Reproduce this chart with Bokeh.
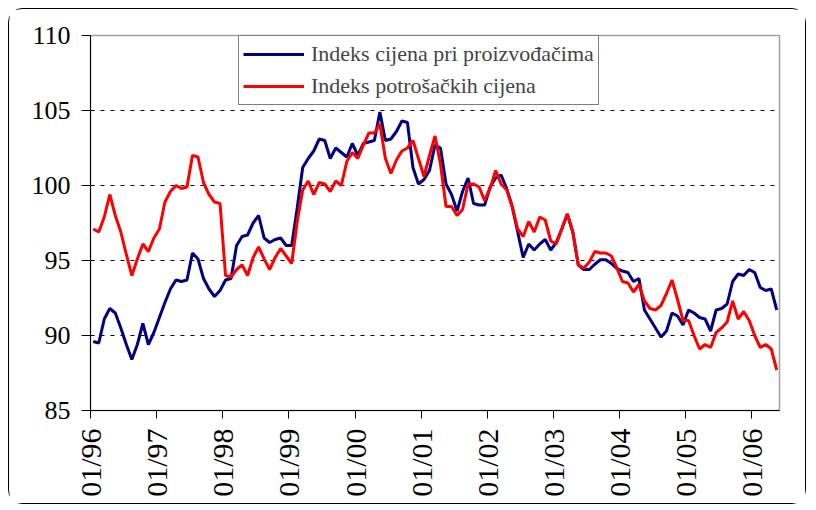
import math
from bokeh.plotting import figure
from bokeh.models import FixedTicker, Legend, LegendItem, Range1d
from bokeh.embed import file_html
from bokeh.resources import INLINE

# Indeks cijena pri proizvođačima (monthly, 01/1996 - 05/2006)
ppi = [
    89.6, 89.5, 91.1, 91.8, 91.5, 90.5, 89.4, 88.4, 89.4, 90.8, 89.4, 90.2,
    91.2, 92.2, 93.1, 93.7, 93.6, 93.7, 95.5, 95.1, 93.8, 93.1, 92.6, 93.0,
    93.7, 93.8, 96.0, 96.6, 96.7, 97.5, 98.0, 96.5, 96.2, 96.4, 96.5, 96.0,
    96.0, 98.5, 101.2, 101.8, 102.3, 103.1, 103.0, 101.8, 102.5, 102.2, 101.9, 102.8,
    102.0, 102.8, 102.9, 103.0, 104.9, 103.0, 103.1, 103.6, 104.3, 104.2, 101.2, 100.1,
    100.4, 101.0, 102.7, 102.5, 100.1, 99.4, 98.3, 99.6, 100.5, 98.8, 98.7, 98.7,
    99.9, 100.5, 100.7, 99.8, 98.6, 96.9, 95.2, 96.1, 95.7, 96.1, 96.4, 95.7,
    96.2, 97.1, 98.1, 96.9, 94.7, 94.4, 94.4, 94.75, 95.05, 95.05, 94.8, 94.45,
    94.3, 94.2, 93.6, 93.8, 91.7, 91.1, 90.5, 89.9, 90.3, 91.5, 91.3, 90.7,
    91.7, 91.5, 91.2, 91.1, 90.3, 91.7, 91.8, 92.1, 93.6, 94.1, 94.0, 94.4,
    94.2, 93.2, 93.0, 93.1, 91.7,
]

# Indeks potrošačkih cijena (monthly, 01/1996 - 05/2006)
cpi = [
    97.1, 96.9, 97.9, 99.4, 98.0, 96.9, 95.4, 94.0, 95.1, 96.1, 95.6, 96.5,
    97.1, 98.9, 99.6, 100.0, 99.8, 99.9, 102.0, 101.9, 100.2, 99.4, 98.9, 98.8,
    94.0, 93.9, 94.4, 94.7, 94.0, 95.2, 95.9, 95.1, 94.4, 95.2, 95.8, 95.3,
    94.8, 97.6, 99.7, 100.3, 99.4, 100.2, 100.1, 99.6, 100.3, 100.0, 101.6, 102.2,
    101.8, 102.7, 103.5, 103.5, 104.1, 101.8, 100.8, 101.7, 102.3, 102.5, 103.0, 101.8,
    100.6, 102.0, 103.3, 101.4, 98.6, 98.6, 98.0, 98.4, 100.1, 100.1, 99.9, 99.0,
    99.8, 101.0, 100.1, 99.7, 98.6, 97.1, 96.6, 97.6, 96.9, 97.9, 97.7, 96.3,
    96.1, 97.1, 98.1, 96.9, 94.7, 94.5, 94.9, 95.6, 95.5, 95.5, 95.3, 94.5,
    93.6, 93.5, 92.9, 93.4, 92.3, 91.8, 91.7, 92.0, 92.8, 93.7, 92.4, 91.0,
    91.0, 90.0, 89.1, 89.4, 89.2, 90.2, 90.5, 90.9, 92.3, 91.1, 91.6, 91.0,
    90.0, 89.2, 89.4, 89.1, 87.7,
]

series_names = ["Indeks cijena pri proizvođačima", "Indeks potrošačkih cijena"]
tick_labels = ["01/96", "01/97", "01/98", "01/99", "01/00", "01/01",
               "01/02", "01/03", "01/04", "01/05", "01/06"]
tick_months = [0, 12, 24, 36, 48, 60, 72, 84, 96, 108, 120]
y_ticks = [85, 90, 95, 100, 105, 110]

n = len(ppi)
x = [i + 0.5 for i in range(n)]

FONT = "Liberation Serif"

p = figure(width=798, height=496, output_backend="svg", toolbar_location=None,
           x_range=Range1d(0, n), y_range=Range1d(85, 110),
           min_border_left=81, min_border_right=28, min_border_top=26,
           min_border_bottom=95)
p.styles = {"margin-left": "8px", "margin-top": "8px",
            "border": "1px solid black", "border-radius": "14px"}
p.background_fill_color = "white"
p.border_fill_color = "white"
p.outline_line_color = "#a0a0a0"
p.outline_line_width = 1.5

# axes
p.yaxis.ticker = FixedTicker(ticks=y_ticks)
p.yaxis.major_label_text_font = FONT
p.yaxis.major_label_text_font_size = "26px"
p.yaxis.major_label_text_color = "black"
p.yaxis.major_tick_out = 9
p.yaxis.major_tick_in = 0
p.yaxis.minor_tick_line_color = None
p.yaxis.axis_line_color = "black"
p.yaxis.major_tick_line_color = "black"
p.yaxis.major_label_standoff = 11

p.xaxis.ticker = FixedTicker(ticks=tick_months)
p.xaxis.major_label_overrides = {m: l for m, l in zip(tick_months, tick_labels)}
p.xaxis.major_label_orientation = math.pi / 2
p.xaxis.major_label_text_font = FONT
p.xaxis.major_label_text_font_size = "30px"
p.xaxis.major_label_text_color = "black"
p.xaxis.major_tick_out = 8
p.xaxis.major_tick_in = 0
p.xaxis.minor_tick_line_color = None
p.xaxis.axis_line_color = "black"
p.xaxis.major_tick_line_color = "black"
p.xaxis.major_label_standoff = 10

# grid
p.xgrid.visible = False
p.ygrid.ticker = FixedTicker(ticks=[90, 95, 100, 105])
p.ygrid.grid_line_color = "black"
p.ygrid.grid_line_dash = "4 6"
p.ygrid.grid_line_width = 1

r1 = p.line(x, ppi, line_color="#000080", line_width=3)
r2 = p.line(x, cpi, line_color="#ff0000", line_width=3)

legend = Legend(
    items=[LegendItem(label=series_names[0], renderers=[r1]),
           LegendItem(label=series_names[1], renderers=[r2])],
    location=(148, 305),
    border_line_color="black", border_line_width=1,
    background_fill_color="white", background_fill_alpha=1,
    padding=4, spacing=4, margin=0,
    glyph_width=61, glyph_height=28, label_height=28,
    label_standoff=7,
    label_text_font=FONT, label_text_font_size="22px",
)
p.add_layout(legend)

open("out.html", "w").write(file_html(p, INLINE))
